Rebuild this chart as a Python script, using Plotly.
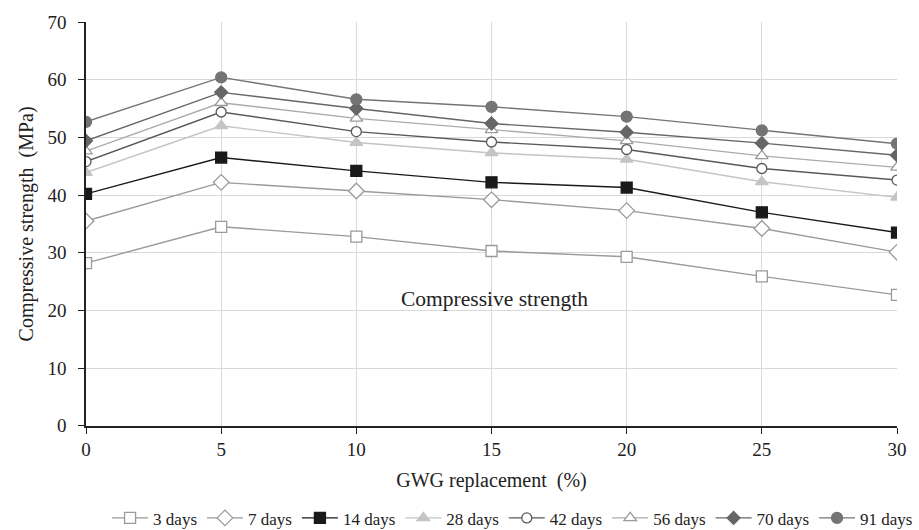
import plotly.graph_objects as go

x_vals = [0, 5, 10, 15, 20, 25, 30]
series_names = ["3 days", "7 days", "14 days", "28 days", "42 days", "56 days", "70 days", "91 days"]
d3 = [28.2, 34.5, 32.8, 30.3, 29.3, 25.9, 22.7]
d7 = [35.5, 42.2, 40.7, 39.2, 37.3, 34.2, 30.1]
d14 = [40.2, 46.5, 44.2, 42.2, 41.3, 37.0, 33.5]
d28 = [43.9, 52.0, 49.1, 47.3, 46.2, 42.3, 39.6]
d42 = [45.8, 54.4, 51.0, 49.2, 47.9, 44.6, 42.6]
d56 = [47.6, 56.0, 53.3, 51.3, 49.4, 46.8, 44.8]
d70 = [49.4, 57.8, 55.0, 52.4, 50.9, 49.0, 46.9]
d91 = [52.7, 60.4, 56.6, 55.3, 53.6, 51.2, 48.9]
all_series = [d3, d7, d14, d28, d42, d56, d70, d91]

styles = [
    dict(line="#9a9a9a", symbol="square", fill="white", edge="#9a9a9a", size=11),
    dict(line="#9a9a9a", symbol="diamond", fill="white", edge="#9a9a9a", size=12),
    dict(line="#1a1a1a", symbol="square", fill="#1a1a1a", edge="#1a1a1a", size=11),
    dict(line="#c4c4c4", symbol="triangle-up", fill="#c4c4c4", edge="#c4c4c4", size=11),
    dict(line="#595959", symbol="circle", fill="white", edge="#595959", size=10),
    dict(line="#ababab", symbol="triangle-up", fill="white", edge="#9a9a9a", size=11),
    dict(line="#666666", symbol="diamond", fill="#666666", edge="#666666", size=10),
    dict(line="#747474", symbol="circle", fill="#747474", edge="#747474", size=11),
]

SERIF = "Liberation Serif, Times New Roman, serif"

fig = go.Figure()
for name, ys, st in zip(series_names, all_series, styles):
    fig.add_trace(go.Scatter(
        x=x_vals, y=ys, name=name, mode="lines+markers",
        line=dict(color=st["line"], width=1.4),
        marker=dict(symbol=st["symbol"], size=st["size"], color=st["fill"],
                    line=dict(color=st["edge"], width=1.3)),
    ))

fig.add_annotation(x=15.1, y=21.9, text="Compressive strength", showarrow=False,
                   font=dict(size=21.5, color="#222", family=SERIF))

fig.update_layout(
    width=919, height=530,
    margin=dict(l=86, r=22, t=15, b=103),
    paper_bgcolor="white", plot_bgcolor="white",
    font=dict(family=SERIF, size=18, color="#222"),
    showlegend=True,
    legend=dict(orientation="h", xref="container", yref="container",
                x=0.999, xanchor="right", y=0.022, yanchor="middle",
                font=dict(size=17, family=SERIF, color="#222"),
                itemwidth=36, tracegroupgap=0),
    xaxis=dict(range=[0, 30], tickvals=x_vals, showgrid=True, gridcolor="#d9d9d9",
               showline=True, linecolor="#222", linewidth=1.5, ticks="outside", ticklen=6,
               tickcolor="#222", zeroline=False, tickfont=dict(size=19),
               title=dict(text="GWG replacement  (%)", font=dict(size=20), standoff=14)),
    yaxis=dict(range=[0, 70], dtick=10, showgrid=True, gridcolor="#d9d9d9",
               showline=True, linecolor="#222", linewidth=1.5, ticks="outside", ticklen=6,
               tickcolor="#222", zeroline=False, tickfont=dict(size=19), ticklabelstandoff=8,
               title=dict(text="Compressive strength  (MPa)", font=dict(size=20), standoff=8)),
)

fig.write_html("out.html")
